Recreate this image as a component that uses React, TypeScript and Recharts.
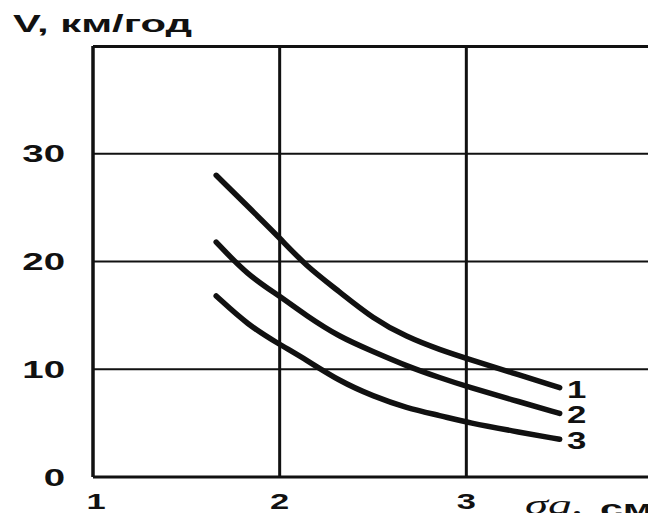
import React from 'react';
import { LineChart, Line, XAxis, YAxis, CartesianGrid, Label, ReferenceLine } from 'recharts';

// sigma_q, cm
const sigma = [1.66, 1.83, 2.0, 2.14, 2.32, 2.5, 2.68, 2.86, 3.02, 3.24, 3.5];
// V, km/h for curves 1..3
const v1 = [28.0, 25.1, 22.2, 19.6, 17.2, 14.7, 13.0, 11.8, 10.9, 9.7, 8.3];
const v2 = [21.8, 18.7, 16.8, 15.0, 13.0, 11.65, 10.3, 9.2, 8.3, 7.2, 5.9];
const v3 = [16.8, 14.1, 12.3, 10.9, 8.9, 7.5, 6.4, 5.7, 5.0, 4.3, 3.5];

const xTicks = [1, 2, 3, 4];
const yTicks = [0, 10, 20, 30, 40];
const curveNames = ['1', '2', '3'];

const rows = sigma.map((x, i) => ({ x, v1: v1[i], v2: v2[i], v3: v3[i] }));

const INK = '#111';
const SANS = '"Liberation Sans", Arial, sans-serif';
const MARGIN = { top: 46, right: 3, bottom: 4, left: 33 };
const W = 656;
const H = 521;

const XTick = ({ x, y, payload }: any) => {
  if (payload.value === 4) return <g />;
  return (
    <text transform={`translate(${x + (payload.value === 1 ? 3 : 0)}, ${y + 32}) scale(1.5,1)`} textAnchor="middle"
      fontFamily={SANS} fontWeight="bold" fontSize={23} fill={INK}>
      {payload.value}
    </text>
  );
};

const YTick = ({ x, y, payload }: any) => {
  if (payload.value === 40) return <g />;
  return (
    <text transform={`translate(${x - 28}, ${y + 8.6}) scale(1.6,1)`} textAnchor="end"
      fontFamily={SANS} fontWeight="bold" fontSize={24} fill={INK}>
      {payload.value}
    </text>
  );
};

const endLabel = (name: string) => (p: any) => {
  if (p.index !== sigma.length - 1) return <g key={p.index} />;
  return (
    <text key={p.index} transform={`translate(${p.x + 17}, ${p.y + 10}) scale(1.45,1)`} textAnchor="middle"
      fontFamily={SANS} fontWeight="bold" fontSize={24} fill={INK}>
      {name}
    </text>
  );
};

export default function App() {
  return (
    <div style={{ width: W, height: H, margin: -8, background: '#fff' }}>
      <LineChart width={W} height={H} data={rows} margin={MARGIN}>
        <CartesianGrid horizontal={false} stroke={INK} strokeWidth={3} />
        <CartesianGrid vertical={false} stroke={INK} strokeWidth={2} />
        <ReferenceLine y={39.95} stroke={INK} strokeWidth={3} ifOverflow="extendDomain" />
        <ReferenceLine x={3.995} stroke={INK} strokeWidth={3} ifOverflow="extendDomain" />
        <XAxis type="number" dataKey="x" domain={[1, 4]} ticks={xTicks} height={40}
          axisLine={{ stroke: INK, strokeWidth: 3 }} tickLine={false} tickSize={0} tickMargin={0} tick={<XTick />}>
          <Label content={() => (
            <g>
              <text x={525} y={514} fontFamily='"Liberation Serif", serif' fontStyle="italic" fontSize={28}
                fill={INK} textLength={58} lengthAdjust="spacingAndGlyphs">σq,</text>
              <text x={600} y={517} fontFamily={SANS} fontWeight="bold" fontSize={23}
                fill={INK} textLength={53} lengthAdjust="spacingAndGlyphs">см</text>
            </g>
          )} />
        </XAxis>
        <YAxis type="number" domain={[0, 40]} ticks={yTicks} width={60}
          axisLine={{ stroke: INK, strokeWidth: 3 }} tickLine={false} tickSize={0} tickMargin={0} tick={<YTick />}>
          <Label content={() => (
            <text x={13} y={32} fontFamily={SANS} fontWeight="bold" fontSize={24}
              fill={INK} textLength={179} lengthAdjust="spacingAndGlyphs">V, км/год</text>
          )} />
        </YAxis>
        {['v1', 'v2', 'v3'].map((k, i) => (
          <Line key={k} dataKey={k} type="basis" stroke={INK} strokeWidth={5.5}
            strokeLinecap="round" dot={false} activeDot={false} isAnimationActive={false}
            label={endLabel(curveNames[i])} />
        ))}
      </LineChart>
    </div>
  );
}
